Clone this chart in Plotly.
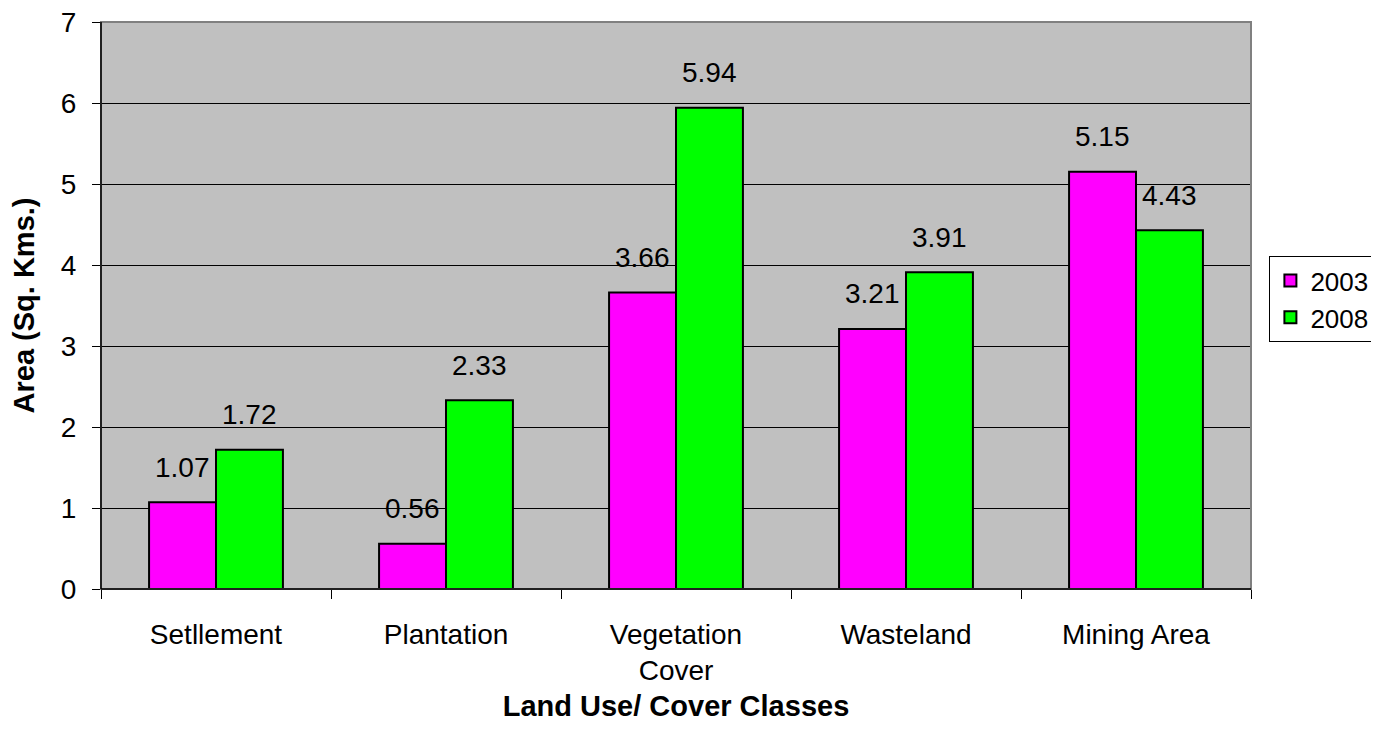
import plotly.graph_objects as go

categories = ["Setllement", "Plantation", "Vegetation<br>Cover", "Wasteland", "Mining Area"]
series_names = ["2003", "2008"]
values_2003 = [1.07, 0.56, 3.66, 3.21, 5.15]
values_2008 = [1.72, 2.33, 5.94, 3.91, 4.43]
colors = ["#FF00FF", "#00FF00"]
y_ticks = [0, 1, 2, 3, 4, 5, 6, 7]

FONT = "Liberation Sans, Arial, sans-serif"

fig = go.Figure()
for name, vals, col in zip(series_names, [values_2003, values_2008], colors):
    fig.add_trace(go.Bar(
        x=categories, y=vals, name=name,
        marker=dict(color=col, line=dict(color="black", width=2)),
    ))

# data labels above each bar
for series, vals in enumerate([values_2003, values_2008]):
    for c, v in zip(categories, vals):
        fig.add_annotation(
            x=c, y=v, xref="x", yref="y", text=f"{v:.2f}", showarrow=False,
            xshift=-33.5 if series == 0 else 33.5, yshift=35, yanchor="middle",
            font=dict(family=FONT, size=28, color="black"),
        )

fig.update_layout(
    width=1371, height=735,
    paper_bgcolor="white", plot_bgcolor="#C0C0C0",
    margin=dict(l=93, r=128, t=14, b=154, autoexpand=False),
    barmode="group", bargap=0.418, bargroupgap=0,
    font=dict(family=FONT, size=28, color="black"),
    showlegend=True,
    legend=dict(x=1.016, y=0.587, xanchor="left", yanchor="top",
                bordercolor="black", borderwidth=1, bgcolor="white",
                font=dict(family=FONT, size=26), itemwidth=30,
                tracegroupgap=8),
    xaxis=dict(
        title=dict(text="<b>Land Use/ Cover Classes</b>", font=dict(family=FONT, size=29), standoff=10),
        showline=True, linecolor="black", linewidth=1,
        ticks="outside", tickson="boundaries", ticklen=9, tickcolor="black",
        tickfont=dict(family=FONT, size=28), showgrid=False,
        ticklabelstandoff=20,
        automargin=False,
    ),
    yaxis=dict(
        title=dict(text="<b>Area (Sq. Kms.)</b>", font=dict(family=FONT, size=29), standoff=20),
        range=[0, 7], tickvals=y_ticks, showline=True, linecolor="black", linewidth=1,
        ticks="outside", ticklen=8, tickcolor="black",
        showgrid=True, gridcolor="black", gridwidth=1,
        tickfont=dict(family=FONT, size=28), zeroline=False,
        ticklabelstandoff=10, ticklabeloverflow="allow",
        automargin=False,
    ),
)
# plot border: gray top & right, black left & bottom
fig.add_shape(type="rect", xref="paper", yref="paper", x0=0, y0=0, x1=1, y1=1,
              line=dict(color="#808080", width=2), layer="above")
fig.add_shape(type="line", xref="paper", yref="paper", x0=0, y0=0, x1=0, y1=1,
              line=dict(color="black", width=1.5), layer="above")
fig.add_shape(type="line", xref="paper", yref="paper", x0=0, y0=0, x1=1, y1=0,
              line=dict(color="black", width=1.5), layer="above")

fig.write_html("out.html")
